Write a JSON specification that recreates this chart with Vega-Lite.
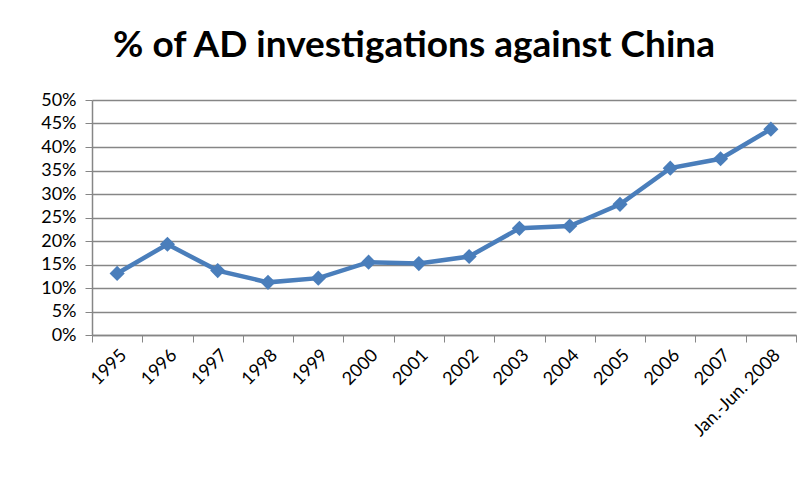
{
  "$schema": "https://vega.github.io/schema/vega-lite/v6.json",
  "width": 704,
  "height": 235,
  "autosize": {"type": "none"},
  "padding": {"left": 92, "top": 100, "right": 15, "bottom": 154},
  "background": "white",
  "title": {
    "text": "% of AD investigations against China",
    "font": "Lato",
    "fontSize": 37,
    "fontWeight": "bold",
    "color": "black",
    "anchor": "middle",
    "dx": -30,
    "offset": 26
  },
  "data": {
    "values": [
      {"period": "1995", "share": 0.131},
      {"period": "1996", "share": 0.193},
      {"period": "1997", "share": 0.137},
      {"period": "1998", "share": 0.112},
      {"period": "1999", "share": 0.121},
      {"period": "2000", "share": 0.155},
      {"period": "2001", "share": 0.152},
      {"period": "2002", "share": 0.167},
      {"period": "2003", "share": 0.227},
      {"period": "2004", "share": 0.232},
      {"period": "2005", "share": 0.278},
      {"period": "2006", "share": 0.355},
      {"period": "2007", "share": 0.375},
      {"period": "Jan.-Jun. 2008", "share": 0.438}
    ]
  },
  "config": {
    "view": {"stroke": null},
    "axis": {
      "labelFont": "Lato",
      "labelFontSize": 18,
      "labelColor": "black",
      "domainColor": "#868686",
      "tickColor": "#868686",
      "gridColor": "#868686",
      "title": null
    }
  },
  "encoding": {
    "x": {
      "field": "period",
      "type": "ordinal",
      "sort": null,
      "scale": {"paddingInner": 0, "paddingOuter": 0},
      "axis": {
        "labelAngle": -45,
        "tickBand": "extent",
        "tickSize": 7,
        "labelPadding": 4,
        "grid": false,
        "domainWidth": 1.5
      }
    },
    "y": {
      "field": "share",
      "type": "quantitative",
      "scale": {"domain": [0, 0.5]},
      "axis": {
        "format": ".0%",
        "values": [0, 0.05, 0.1, 0.15, 0.2, 0.25, 0.3, 0.35, 0.4, 0.45, 0.5],
        "grid": true,
        "gridWidth": 1.5,
        "tickSize": 7,
        "labelPadding": 9,
        "domainWidth": 1.5
      }
    }
  },
  "layer": [
    {
      "mark": {"type": "line", "color": "#4A7EBB", "strokeWidth": 4.5}
    },
    {
      "mark": {"type": "point", "shape": "diamond", "filled": true, "color": "#4A7EBB", "size": 230, "opacity": 1}
    }
  ]
}
